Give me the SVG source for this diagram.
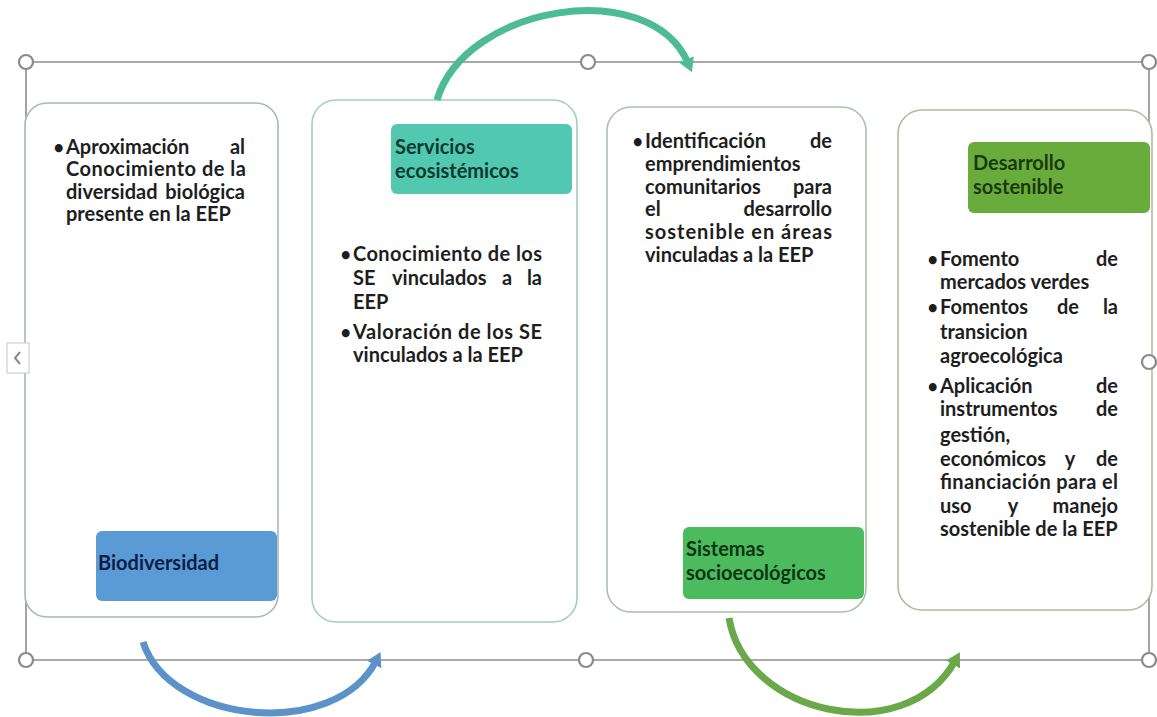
<svg xmlns="http://www.w3.org/2000/svg" width="1157" height="717" viewBox="0 0 1157 717">
<defs>
<style>
.t{font-family:Lato,"Liberation Sans",sans-serif;font-weight:700;font-size:20px;fill:#1e1e1e}
.b{font-family:Lato,"Liberation Sans",sans-serif;font-weight:700;font-size:18px;fill:#1e1e1e;text-anchor:end}
.e{text-anchor:end}
.m{text-anchor:middle}
.box{fill:#fff;stroke-width:1.6}
.frame{stroke:#8d8d8d;stroke-width:1.6;fill:none}
.handle{fill:#fff;stroke:#8a8a8a;stroke-width:2.2}
.arc{fill:none;stroke-width:7;stroke-linecap:butt}
</style>
<marker id="hBlue" markerUnits="userSpaceOnUse" markerWidth="20" markerHeight="20" refX="4" refY="8" orient="auto"><path d="M0,0 L14,8 L0,16 Z" fill="#5b93c9"/></marker>
<marker id="hTeal" markerUnits="userSpaceOnUse" markerWidth="20" markerHeight="20" refX="4" refY="8" orient="auto"><path d="M0,0 L14,8 L0,16 Z" fill="#4dbb94"/></marker>
<marker id="hGreen" markerUnits="userSpaceOnUse" markerWidth="20" markerHeight="20" refX="4" refY="8" orient="auto"><path d="M0,0 L14,8 L0,16 Z" fill="#6aa84a"/></marker>
</defs>
<rect width="1157" height="717" fill="#fff"/>

<g id="frame">
<line class="frame" x1="26" y1="62" x2="1149" y2="62"/>
<line class="frame" x1="26" y1="660" x2="1149" y2="660"/>
<line class="frame" x1="26" y1="62" x2="26" y2="660"/>
<line class="frame" x1="1149" y1="62" x2="1149" y2="660"/>
</g>

<g id="node-biodiversidad">
<rect class="box" x="25" y="103" width="253" height="514" rx="22" stroke="#a9b5bf"/>
<text class="b" x="64" y="154">•</text>
<text class="t" x="66" y="154">Aproximación</text>
<text class="t e" x="245" y="154">al</text>
<text class="t" x="66" y="176" textLength="180" lengthAdjust="spacing">Conocimiento de la</text>
<text class="t" x="66" y="199">diversidad</text>
<text class="t e" x="245" y="199">biológica</text>
<text class="t" x="66" y="221">presente en la EEP</text>
<rect x="96" y="531" width="181" height="70" rx="6" fill="#5b9bd5"/>
<text class="t" x="98" y="570" style="fill:#0b1e46">Biodiversidad</text>
</g>

<g id="node-servicios">
<rect class="box" x="312" y="100" width="265" height="522" rx="24" stroke="#9dcfc3"/>
<rect x="391" y="124" width="181" height="70" rx="6" fill="#52c8b0"/>
<text class="t" x="395" y="154" style="fill:#0d3a30">Servicios</text>
<text class="t" x="395" y="178" style="fill:#0d3a30">ecosistémicos</text>
<text class="b" x="351" y="261">•</text>
<text class="t" x="353" y="261" textLength="189" lengthAdjust="spacing">Conocimiento de los</text>
<text class="t" x="353" y="285">SE</text>
<text class="t" x="392" y="285">vinculados</text>
<text class="t m" x="507" y="285">a</text>
<text class="t e" x="542" y="285">la</text>
<text class="t" x="353" y="309">EEP</text>
<text class="b" x="351" y="339">•</text>
<text class="t" x="353" y="339" textLength="189" lengthAdjust="spacing">Valoración de los SE</text>
<text class="t" x="353" y="362">vinculados a la EEP</text>
</g>

<g id="node-sistemas">
<rect class="box" x="607" y="107" width="259" height="505" rx="24" stroke="#a7c2ab"/>
<text class="b" x="643" y="148">•</text>
<text class="t" x="645" y="148">Identificación</text>
<text class="t e" x="832" y="148">de</text>
<text class="t" x="645" y="171">emprendimientos</text>
<text class="t" x="645" y="194">comunitarios</text>
<text class="t e" x="832" y="194">para</text>
<text class="t" x="645" y="216">el</text>
<text class="t e" x="832" y="216">desarrollo</text>
<text class="t" x="645" y="239" textLength="187" lengthAdjust="spacing">sostenible en áreas</text>
<text class="t" x="645" y="262">vinculadas a la EEP</text>
<rect x="683" y="527" width="181" height="72" rx="6" fill="#4cbb5e"/>
<text class="t" x="686" y="556" style="fill:#0c3512">Sistemas</text>
<text class="t" x="686" y="580" style="fill:#0c3512">socioecológicos</text>
</g>

<g id="node-desarrollo">
<rect class="box" x="898" y="110" width="254" height="500" rx="24" stroke="#b0bc9c"/>
<rect x="968" y="142" width="182" height="71" rx="6" fill="#6aac3c"/>
<text class="t" x="973" y="170" style="fill:#183a0e">Desarrollo</text>
<text class="t" x="973" y="194" style="fill:#183a0e">sostenible</text>
<text class="b" x="938" y="266">•</text>
<text class="t" x="940" y="266">Fomento</text>
<text class="t e" x="1118" y="266">de</text>
<text class="t" x="940" y="289">mercados verdes</text>
<text class="b" x="938" y="314">•</text>
<text class="t" x="940" y="314">Fomentos</text>
<text class="t m" x="1068" y="314">de</text>
<text class="t e" x="1118" y="314">la</text>
<text class="t" x="940" y="339">transicion</text>
<text class="t" x="940" y="363">agroecológica</text>
<text class="b" x="938" y="393">•</text>
<text class="t" x="940" y="393">Aplicación</text>
<text class="t e" x="1118" y="393">de</text>
<text class="t" x="940" y="416">instrumentos</text>
<text class="t e" x="1118" y="416">de</text>
<text class="t" x="940" y="442">gestión,</text>
<text class="t" x="940" y="466">económicos</text>
<text class="t m" x="1070" y="466">y</text>
<text class="t e" x="1118" y="466">de</text>
<text class="t" x="940" y="489" textLength="178" lengthAdjust="spacing">financiación para el</text>
<text class="t" x="940" y="513">uso</text>
<text class="t m" x="1013" y="513">y</text>
<text class="t e" x="1118" y="513">manejo</text>
<text class="t" x="940" y="536">sostenible de la EEP</text>
</g>

<g id="connectors">
<path class="arc" stroke="#5b93c9" d="M143,642 C170,725 335,740 376,661" marker-end="url(#hBlue)"/>
<path class="arc" stroke="#4dbb94" d="M437,100 C465,5 650,-25 688,63" marker-end="url(#hTeal)"/>
<path class="arc" stroke="#6aa84a" d="M729,618 C745,715 905,750 955,661" marker-end="url(#hGreen)"/>
</g>

<g id="handles">
<circle class="handle" cx="26" cy="62" r="7"/>
<circle class="handle" cx="588" cy="62" r="7"/>
<circle class="handle" cx="1149" cy="62" r="7"/>
<circle class="handle" cx="26" cy="660" r="7"/>
<circle class="handle" cx="586" cy="660" r="7"/>
<circle class="handle" cx="1149" cy="660" r="7"/>
<circle class="handle" cx="1149" cy="362" r="7"/>
<rect x="7" y="343" width="22" height="30" fill="#fff" stroke="#d0d0d0" stroke-width="1.2"/>
<polyline points="20,352 15,358 20,364" fill="none" stroke="#8a8a8a" stroke-width="2"/>
</g>
</svg>
